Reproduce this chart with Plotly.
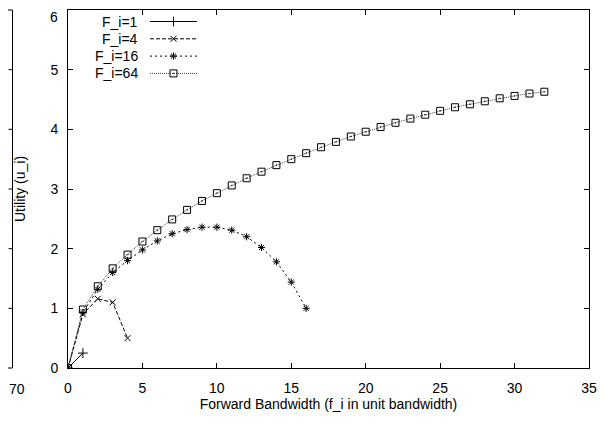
import plotly.graph_objects as go

# forward bandwidth steps (unit bandwidth) and utility per F_i setting
f_1 = [0, 1]
u_1 = [0, 0.25]

f_4 = [0, 1, 2, 3, 4]
u_4 = [0, 0.90, 1.16, 1.10, 0.50]

f_16 = list(range(0, 17))
u_16 = [0, 0.93, 1.32, 1.60, 1.80, 1.98, 2.13, 2.25, 2.32, 2.36, 2.36,
        2.31, 2.20, 2.02, 1.78, 1.44, 1.00]

f_64 = list(range(0, 33))
u_64 = [0, 0.98, 1.37, 1.67, 1.90, 2.12, 2.31, 2.49, 2.65, 2.80, 2.93,
        3.06, 3.18, 3.29, 3.40, 3.50, 3.60, 3.70, 3.79, 3.88, 3.96, 4.04,
        4.11, 4.18, 4.245, 4.31, 4.37, 4.42, 4.47, 4.52, 4.56, 4.60, 4.63]

names = ["F_i=1", "F_i=4", "F_i=16", "F_i=64"]
y_ticks = [0, 1, 2, 3, 4, 5]
y_top = 6
left_panel_ticks = [1, 2, 3, 4, 5]

FONT = "Liberation Sans, Arial, sans-serif"
# the page body has an 8px default margin, so work in figure pixels
OFF = 8
W, H = 605 - OFF, 424 - OFF
L_PX, R_PX = 68 - OFF, 589 - OFF   # main plot box
T_PX, B_PX = 10 - OFF, 368 - OFF
PW = R_PX - L_PX
PH = B_PX - T_PX


def px_to_paper_x(px):
    return (px - OFF - L_PX) / PW


styles = [
    dict(symbol="cross-thin-open", size=7, dash="solid", color="black"),
    dict(symbol="x-thin-open", size=6, dash="4px,2px", color="black"),
    dict(symbol="asterisk-open", size=6, dash="2px,3px", color="black"),
    dict(symbol="square-open-dot", size=7, dash="1px,1px", color="#444444"),
]

series = [(f_1, u_1), (f_4, u_4), (f_16, u_16), (f_64, u_64)]

fig = go.Figure()
for (fx, uy), name, st in zip(series, names, styles):
    fig.add_trace(go.Scatter(
        x=fx, y=uy, name=name, mode="lines+markers", showlegend=False,
        line=dict(color=st["color"], width=1, dash=st["dash"]),
        marker=dict(symbol=st["symbol"], size=st["size"], color="black",
                    line=dict(color="black", width=1)),
    ))

# hand-built gnuplot style key: text on the left, sample on the right
row0, row_gap = 21.5 - 10, 17.3
for i, (name, st) in enumerate(zip(names, styles)):
    ry = row0 + i * row_gap
    fig.add_trace(go.Scatter(
        x=[0, 0.5, 1], y=[ry, ry, ry], xaxis="x3", yaxis="y3",
        mode="lines", showlegend=False, hoverinfo="skip",
        line=dict(color=st["color"], width=1, dash=st["dash"]),
    ))
    fig.add_trace(go.Scatter(
        x=[0.5], y=[ry], xaxis="x3", yaxis="y3",
        mode="markers", showlegend=False, hoverinfo="skip",
        marker=dict(symbol=st["symbol"], size=st["size"], color="black",
                    line=dict(color="black", width=1)),
    ))
    fig.add_annotation(
        x=px_to_paper_x(140), xref="paper", y=ry, yref="y3", text=name,
        showarrow=False, xanchor="right", yanchor="middle",
        font=dict(family=FONT, size=14, color="black"),
    )

# top tick label kept just inside the page edge
fig.add_annotation(x=0, xref="paper", y=y_top, yref="y", text=str(y_top),
                   showarrow=False, xanchor="right", yanchor="middle",
                   xshift=-9, yshift=-7, borderpad=0,
                   font=dict(family=FONT, size=14, color="black"))

# right edge of the neighbouring panel, cut off at the left of the page
edge = px_to_paper_x(12.5)
fig.add_shape(type="line", xref="paper", yref="paper", x0=edge, x1=edge,
              y0=0, y1=1, line=dict(color="black", width=1))
fig.add_shape(type="line", xref="paper", yref="paper", x0=edge - 0.05,
              x1=edge, y0=1, y1=1, line=dict(color="black", width=1))
fig.add_shape(type="line", xref="paper", yref="paper", x0=edge - 0.05,
              x1=edge, y0=0, y1=0, line=dict(color="black", width=1))
for t in left_panel_ticks:
    fig.add_shape(type="line", xref="paper", yref="y", x0=edge - 4 / PW,
                  x1=edge, y0=t, y1=t, line=dict(color="black", width=1))
fig.add_annotation(x=edge, xref="paper", y=0, yref="paper", text="70",
                   showarrow=False, xanchor="center", yanchor="top",
                   xshift=4, yshift=-11,
                   font=dict(family=FONT, size=14, color="black"))

axis_common = dict(
    showline=True, linecolor="black", linewidth=1, mirror="ticks",
    ticks="inside", ticklen=5, tickcolor="black", tickwidth=1,
    showgrid=False, zeroline=False, automargin=False,
    tickfont=dict(family=FONT, size=14, color="black"),
)

fig.update_layout(
    width=W, height=H,
    paper_bgcolor="white", plot_bgcolor="rgba(0,0,0,0)",
    margin=dict(l=L_PX, r=W - R_PX, t=T_PX, b=H - B_PX, autoexpand=False),
    font=dict(family=FONT, size=14, color="black"),
    xaxis=dict(axis_common, domain=[0, 1], range=[0, 35], dtick=5,
               ticklabelstandoff=7,
               title=dict(text="Forward Bandwidth (f_i in unit bandwidth)",
                          font=dict(family=FONT, size=14), standoff=0)),
    yaxis=dict(axis_common, range=[0, y_top], tickvals=y_ticks,
               ticklabelstandoff=6,
               title=dict(text="Utility (u_i)",
                          font=dict(family=FONT, size=14), standoff=21)),
    xaxis3=dict(domain=[px_to_paper_x(150), px_to_paper_x(197)],
                range=[0, 1], anchor="y3", visible=False, fixedrange=True),
    yaxis3=dict(domain=[0, 1], range=[PH, 0], anchor="x3", overlaying="y",
                visible=False, fixedrange=True),
)

fig.write_html("out.html")
